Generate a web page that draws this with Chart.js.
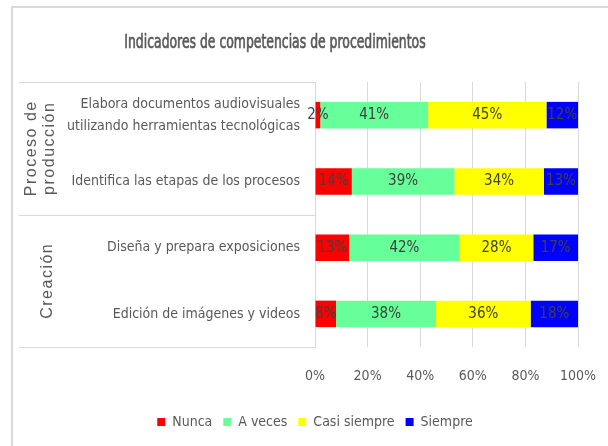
<!DOCTYPE html>
<html>
<head>
<meta charset="utf-8">
<script src="https://cdn.jsdelivr.net/npm/chart.js@4/dist/chart.umd.min.js"></script>
<style>
  html, body { margin: 0; padding: 0; background: #fff; }
  #wrap { width: 608px; height: 446px; position: relative; }
</style>
</head>
<body>
<div id="wrap"><canvas id="chart"></canvas></div>
<script>
const FONT = "'Liberation Sans Narrow', 'DejaVu Sans Condensed', 'Liberation Sans', sans-serif";

const title = "Indicadores de competencias de procedimientos";
const categories = [
  ["Elabora documentos audiovisuales", "utilizando herramientas tecnológicas"],
  "Identifica las etapas de los procesos",
  "Diseña y prepara exposiciones",
  "Edición de imágenes y videos"
];
const groups = [
  { label: ["Proceso de", "producción"], from: 0, to: 1 },
  { label: ["Creación"], from: 2, to: 3 }
];
const seriesNames = ["Nunca", "A veces", "Casi siempre", "Siempre"];
const nunca = [2, 14, 13, 8];
const aVeces = [41, 39, 42, 38];
const casiSiempre = [45, 34, 28, 36];
const siempre = [12, 13, 17, 18];
const xTicks = [0, 20, 40, 60, 80, 100];

const colors = ["#ff0000", "#66ff99", "#ffff00", "#0000ff"];
const gray = "#595959";
const lineGray = "#d9d9d9";

// extra drawing: frame, title, group labels, separators, value labels
const extras = {
  id: "extras",
  afterLayout(chart) {
    // the legend in the original sits a bit right of centre
    chart.legend.left += 26;
    chart.legend.right += 26;
  },
  beforeDraw(chart) {
    const ctx = chart.ctx;
    ctx.save();
    ctx.strokeStyle = lineGray;
    ctx.lineWidth = 2;
    ctx.beginPath();
    ctx.moveTo(12, 446);
    ctx.lineTo(12, 7);
    ctx.lineTo(608, 7);
    ctx.stroke();
    ctx.restore();
  },
  afterDraw(chart) {
    const ctx = chart.ctx;
    const area = chart.chartArea;
    const y = chart.scales.y;
    ctx.save();

    // title (condensed, like the original's Calibri)
    ctx.fillStyle = gray;
    ctx.strokeStyle = gray;
    ctx.lineWidth = 0.7;
    ctx.font = "20px " + FONT;
    ctx.textAlign = "center";
    ctx.textBaseline = "middle";
    ctx.save();
    ctx.translate(275, 43);
    ctx.scale(0.69, 1);
    ctx.fillText(title, 0, 0);
    ctx.strokeText(title, 0, 0);
    ctx.restore();

    // group separators
    ctx.strokeStyle = lineGray;
    ctx.lineWidth = 1;
    const step = y.getPixelForValue(1) - y.getPixelForValue(0);
    const edges = [area.top];
    groups.forEach(g => edges.push(y.getPixelForValue(g.to) + step / 2));
    edges.forEach(e => {
      ctx.beginPath();
      ctx.moveTo(19, Math.round(e) + 0.5);
      ctx.lineTo(area.left, Math.round(e) + 0.5);
      ctx.stroke();
    });

    // group labels (rotated)
    ctx.font = "16px 'Liberation Sans', sans-serif";
    ctx.letterSpacing = "1.5px";
    groups.forEach(g => {
      const top = y.getPixelForValue(g.from) - step / 2;
      const bot = y.getPixelForValue(g.to) + step / 2;
      const cy = (top + bot) / 2;
      const n = g.label.length;
      g.label.forEach((t, i) => {
        ctx.save();
        ctx.translate(41 + (i - (n - 1) / 2) * 18 + (n === 1 ? 7 : 0), cy);
        ctx.rotate(-Math.PI / 2);
        ctx.fillText(t, 0, 0);
        ctx.restore();
      });
    });
    ctx.letterSpacing = "0px";

    // value labels
    ctx.font = "15px " + FONT;
    ctx.fillStyle = "#404040";
    chart.data.datasets.forEach((ds, di) => {
      const meta = chart.getDatasetMeta(di);
      meta.data.forEach((bar, i) => {
        ctx.fillText(ds.data[i] + "%", (bar.x + bar.base) / 2, bar.y);
      });
    });
    ctx.restore();
  }
};

new Chart(document.getElementById("chart"), {
  type: "bar",
  data: {
    labels: categories,
    datasets: [nunca, aVeces, casiSiempre, siempre].map((d, i) => ({
      label: seriesNames[i],
      data: d,
      backgroundColor: colors[i],
      borderWidth: 0,
      categoryPercentage: 1,
      barPercentage: 0.4
    }))
  },
  options: {
    indexAxis: "y",
    responsive: true,
    maintainAspectRatio: false,
    animation: false,
    layout: { padding: { left: 0, right: 30, top: 82, bottom: 7 } },
    plugins: {
      title: { display: false },
      tooltip: { enabled: false },
      legend: {
        position: "bottom",
        labels: {
          boxWidth: 8,
          boxHeight: 8,
          padding: 11,
          color: gray,
          font: { family: FONT, size: 14 }
        }
      }
    },
    scales: {
      x: {
        stacked: true,
        min: 0,
        max: 100,
        afterBuildTicks(scale) { scale.ticks = xTicks.map(v => ({ value: v })); },
        afterFit(scale) { scale.height = 57; },
        grid: { color: lineGray, drawTicks: true, tickLength: 18, tickColor: "rgba(0,0,0,0)" },
        border: { display: false },
        ticks: {
          padding: 3,
          color: gray,
          font: { family: FONT, size: 14 },
          callback: v => v + "%"
        }
      },
      y: {
        stacked: true,
        afterFit(scale) { scale.width = 315; },
        grid: { display: false, drawTicks: false },
        border: { display: true, color: lineGray },
        ticks: {
          padding: 15,
          color: gray,
          font: { family: FONT, size: 14, lineHeight: 1.55 }
        }
      }
    }
  },
  plugins: [extras]
});
</script>
</body>
</html>
